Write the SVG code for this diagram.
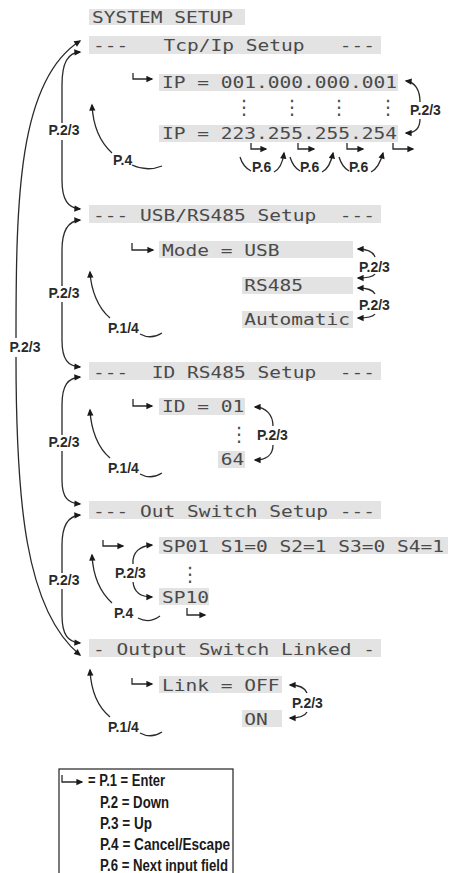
<svg xmlns="http://www.w3.org/2000/svg" width="451" height="873" viewBox="0 0 451 873">
<style>
.bar{fill:#e3e3e3}
.lcd{font-family:"DejaVu Sans Mono","Liberation Mono",monospace;font-size:15px;fill:#4a4a4a;white-space:pre}
.lbl{font-family:"Liberation Sans",Arial,sans-serif;font-weight:bold;font-size:14px;fill:#2a2a2a}
.leg{font-family:"Liberation Sans",Arial,sans-serif;font-weight:bold;font-size:16px;fill:#1a1a1a}
.ln{fill:none;stroke:#2a2a2a;stroke-width:1.3}
.dots{font-family:"DejaVu Sans",sans-serif;font-size:20px;fill:#505050}
</style>
<defs>
<marker id="ah" viewBox="0 0 10 10" refX="8" refY="5" markerWidth="8" markerHeight="7" markerUnits="userSpaceOnUse" orient="auto">
<path d="M0,0.5 L10,5 L0,9.5 z" fill="#1a1a1a"/>
</marker>
</defs>
<rect width="451" height="873" fill="#fff"/>

<g id="title">
<rect class="bar" x="89" y="9" width="156" height="16"/>
<text class="lcd" x="92" y="22.5" textLength="141" lengthAdjust="spacingAndGlyphs">SYSTEM SETUP</text>
</g>

<g id="tcpip">
<rect class="bar" x="89" y="36" width="292" height="18"/>
<text class="lcd" x="93" y="51" textLength="282" lengthAdjust="spacingAndGlyphs">---   Tcp/Ip Setup   ---</text>
<rect class="bar" x="159" y="74" width="239" height="17"/>
<text class="lcd" x="162" y="88" textLength="235" lengthAdjust="spacingAndGlyphs">IP = 001.000.000.001</text>
<text class="dots" x="234" y="114">⋮</text>
<text class="dots" x="282" y="114">⋮</text>
<text class="dots" x="329" y="114">⋮</text>
<text class="dots" x="378" y="114">⋮</text>
<rect class="bar" x="159" y="125" width="239" height="17"/>
<text class="lcd" x="162" y="139" textLength="235" lengthAdjust="spacingAndGlyphs">IP = 223.255.255.254</text>
</g>

<g id="usb">
<rect class="bar" x="89" y="205" width="292" height="18"/>
<text class="lcd" x="93" y="221" textLength="282" lengthAdjust="spacingAndGlyphs">--- USB/RS485 Setup  ---</text>
<rect class="bar" x="159" y="241" width="194" height="17"/>
<text class="lcd" x="162" y="256" textLength="117.5" lengthAdjust="spacingAndGlyphs">Mode = USB</text>
<rect class="bar" x="242" y="277" width="111" height="17"/>
<text class="lcd" x="244.25" y="291" textLength="58.75" lengthAdjust="spacingAndGlyphs">RS485</text>
<rect class="bar" x="242" y="311" width="111" height="17"/>
<text class="lcd" x="244.25" y="325" textLength="105.75" lengthAdjust="spacingAndGlyphs">Automatic</text>
</g>

<g id="idrs485">
<rect class="bar" x="89" y="362" width="292" height="18"/>
<text class="lcd" x="93" y="378" textLength="282" lengthAdjust="spacingAndGlyphs">---  ID RS485 Setup  ---</text>
<rect class="bar" x="159" y="398" width="86" height="17"/>
<text class="lcd" x="162" y="412" textLength="82.25" lengthAdjust="spacingAndGlyphs">ID = 01</text>
<text class="dots" x="229" y="441">⋮</text>
<rect class="bar" x="218" y="451" width="27" height="17"/>
<text class="lcd" x="220.75" y="465" textLength="23.5" lengthAdjust="spacingAndGlyphs">64</text>
</g>

<g id="outswitch">
<rect class="bar" x="89" y="501" width="292" height="18"/>
<text class="lcd" x="93" y="517" textLength="282" lengthAdjust="spacingAndGlyphs">--- Out Switch Setup ---</text>
<rect class="bar" x="159" y="537" width="289" height="17"/>
<text class="lcd" x="162" y="552" textLength="282" lengthAdjust="spacingAndGlyphs">SP01 S1=0 S2=1 S3=0 S4=1</text>
<text class="dots" x="180" y="581">⋮</text>
<rect class="bar" x="159" y="588" width="50" height="17"/>
<text class="lcd" x="162" y="603" textLength="47" lengthAdjust="spacingAndGlyphs">SP10</text>
</g>

<g id="linked">
<rect class="bar" x="89" y="639" width="292" height="18"/>
<text class="lcd" x="93" y="655" textLength="282" lengthAdjust="spacingAndGlyphs">- Output Switch Linked -</text>
<rect class="bar" x="159" y="676" width="123" height="17"/>
<text class="lcd" x="162" y="691" textLength="117.5" lengthAdjust="spacingAndGlyphs">Link = OFF</text>
<rect class="bar" x="242" y="710" width="40" height="17"/>
<text class="lcd" x="244.25" y="725" textLength="23.5" lengthAdjust="spacingAndGlyphs">ON</text>
</g>

<g id="labels">
<text class="lbl" x="64" y="135" text-anchor="middle">P.2/3</text>
<text class="lbl" x="64" y="298" text-anchor="middle">P.2/3</text>
<text class="lbl" x="64" y="447" text-anchor="middle">P.2/3</text>
<text class="lbl" x="64" y="585" text-anchor="middle">P.2/3</text>
<text class="lbl" x="25" y="352" text-anchor="middle">P.2/3</text>
<text class="lbl" x="113" y="165">P.4</text>
<text class="lbl" x="108" y="333">P.1/4</text>
<text class="lbl" x="108" y="473">P.1/4</text>
<text class="lbl" x="114" y="618">P.4</text>
<text class="lbl" x="108" y="732">P.1/4</text>
<text class="lbl" x="410" y="115">P.2/3</text>
<text class="lbl" x="359" y="272">P.2/3</text>
<text class="lbl" x="359" y="310">P.2/3</text>
<text class="lbl" x="257" y="440">P.2/3</text>
<text class="lbl" x="115" y="578">P.2/3</text>
<text class="lbl" x="292" y="708">P.2/3</text>
<text class="lbl" x="252" y="172" font-size="13">P.6</text>
<text class="lbl" x="300" y="172" font-size="13">P.6</text>
<text class="lbl" x="349" y="172" font-size="13">P.6</text>
</g>

<g id="connectors">
<path class="ln" d="M16 338 C16 200 18 80 80 41" marker-end="url(#ah)"/>
<path class="ln" d="M16 357 C16 500 25 610 80 655" marker-end="url(#ah)"/>
<path class="ln" d="M62 123 L62 85 C62 62 68 53 80 52" marker-end="url(#ah)"/>
<path class="ln" d="M62 140 L62 180 C62 200 68 208 80 209" marker-end="url(#ah)"/>
<path class="ln" d="M62 286 L62 250 C62 230 68 221 80 220" marker-end="url(#ah)"/>
<path class="ln" d="M62 302 L62 340 C62 360 68 366 80 367" marker-end="url(#ah)"/>
<path class="ln" d="M62 435 L62 405 C62 385 68 378 80 377" marker-end="url(#ah)"/>
<path class="ln" d="M62 451 L62 480 C62 498 68 503 80 504" marker-end="url(#ah)"/>
<path class="ln" d="M62 573 L62 545 C62 525 68 516 80 515" marker-end="url(#ah)"/>
<path class="ln" d="M62 589 L62 615 C62 635 68 642 80 643" marker-end="url(#ah)"/>
<path class="ln" d="M112 153 C100 142 93 125 92 105" marker-end="url(#ah)"/>
<path class="ln" d="M110 318 C98 308 91 290 90 272" marker-end="url(#ah)"/>
<path class="ln" d="M110 458 C98 448 91 430 90 410" marker-end="url(#ah)"/>
<path class="ln" d="M112 603 C100 592 93 575 92 555" marker-end="url(#ah)"/>
<path class="ln" d="M110 717 C98 707 91 690 90 670" marker-end="url(#ah)"/>
<path class="ln" d="M132 165 Q147 172 162 166"/>
<path class="ln" d="M140 334 Q151 340 162 333"/>
<path class="ln" d="M140 474 Q151 480 162 473"/>
<path class="ln" d="M138 618 Q149 624 160 616"/>
<path class="ln" d="M140 733 Q151 739 162 732"/>
<path class="ln" d="M133 73 L133 79 L152 79" marker-end="url(#ah)"/>
<path class="ln" d="M132 243 L132 250 L153 250" marker-end="url(#ah)"/>
<path class="ln" d="M133 399 L133 406 L152 406" marker-end="url(#ah)"/>
<path class="ln" d="M103 540 L103 546 L123 546" marker-end="url(#ah)"/>
<path class="ln" d="M132 678 L132 684 L152 684" marker-end="url(#ah)"/>
<path class="ln" d="M187 608 L187 615 L205 615" marker-end="url(#ah)"/>
<path class="ln" d="M251 143 L251 149 L266 149" marker-end="url(#ah)"/>
<path class="ln" d="M298 143 L298 149 L314 149" marker-end="url(#ah)"/>
<path class="ln" d="M347 143 L347 149 L363 149" marker-end="url(#ah)"/>
<path class="ln" d="M393 143 L393 149 L413 149" marker-end="url(#ah)"/>
<path class="ln" d="M240 157 Q243 167 251 171"/>
<path class="ln" d="M274 172 Q282 168 284 153" marker-end="url(#ah)"/>
<path class="ln" d="M290 157 Q293 167 300 171"/>
<path class="ln" d="M322 172 Q330 168 333 153" marker-end="url(#ah)"/>
<path class="ln" d="M339 157 Q342 167 349 171"/>
<path class="ln" d="M371 172 Q379 168 383 153" marker-end="url(#ah)"/>
<path class="ln" d="M420 102 C420 90 415 82 406 81" marker-end="url(#ah)"/>
<path class="ln" d="M420 119 C420 128 415 133 406 133" marker-end="url(#ah)"/>
<path class="ln" d="M375 257 C373 252 367 249 358 249" marker-end="url(#ah)"/>
<path class="ln" d="M375 274 C373 277 367 278 358 278" marker-end="url(#ah)"/>
<path class="ln" d="M375 294 C373 290 367 288 358 288" marker-end="url(#ah)"/>
<path class="ln" d="M375 314 C373 317 367 318 358 318" marker-end="url(#ah)"/>
<path class="ln" d="M273 426 C273 415 266 407 255 407" marker-end="url(#ah)"/>
<path class="ln" d="M273 445 C273 455 266 460 255 460" marker-end="url(#ah)"/>
<path class="ln" d="M133 564 C132 552 140 546 152 545" marker-end="url(#ah)"/>
<path class="ln" d="M133 582 C134 592 140 597 152 597" marker-end="url(#ah)"/>
<path class="ln" d="M307 693 C305 688 299 685 290 685" marker-end="url(#ah)"/>
<path class="ln" d="M307 712 C305 716 299 718 290 718" marker-end="url(#ah)"/>
</g>

<g id="legend">
<rect x="59" y="769" width="174" height="120" fill="none" stroke="#222" stroke-width="1.2"/>
<path class="ln" d="M62 775 L62 782 L82 782" marker-end="url(#ah)"/>
<text class="leg" x="88" y="786" textLength="77" lengthAdjust="spacingAndGlyphs">= P.1 = Enter</text>
<text class="leg" x="100" y="808" textLength="69" lengthAdjust="spacingAndGlyphs">P.2 = Down</text>
<text class="leg" x="100" y="829" textLength="52" lengthAdjust="spacingAndGlyphs">P.3 = Up</text>
<text class="leg" x="100" y="850" textLength="130" lengthAdjust="spacingAndGlyphs">P.4 = Cancel/Escape</text>
<text class="leg" x="100" y="871" textLength="128" lengthAdjust="spacingAndGlyphs">P.6 = Next input field</text>
</g>
</svg>
